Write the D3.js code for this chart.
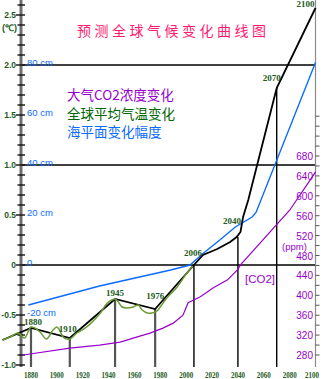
<!DOCTYPE html>
<html><head><meta charset="utf-8">
<script src="https://cdn.jsdelivr.net/npm/d3@7"></script>
<style>html,body{margin:0;padding:0;background:#fff;overflow:hidden}</style>
</head><body>
<svg id="c" width="323" height="379"></svg>
<script>
// ---- data ----
const title = "预测全球气候变化曲线图";
const legendLabels = ["大气CO2浓度变化", "全球平均气温变化", "海平面变化幅度"];
const xTickYears = [1880,1900,1920,1940,1960,1980,2000,2020,2040,2060,2080,2100];
const tempTickLabels = ["2.5","2.0","1.5","1.0","0.5","0","-0.5","-1.0"];
const tempTickValues = [2.5,2.0,1.5,1.0,0.5,0,-0.5,-1.0];
const seaTickLabels = ["80 cm","60 cm","40 cm","20 cm","0","-20 cm"];
const seaTickValues = [80,60,40,20,0,-20];
const co2TickValues = [280,320,360,400,440,480,520,560,600,640,680];

const keyYears = [1880,1910,1945,1976,2006,2040,2070,2100];
const keyTemps = [-0.63,-0.73,-0.34,-0.44,0,0.28,1.77,2.57];

const trendYears = [1858,1880,1910,1945,1976,2006,2013,2024,2034,2039,2042,2044,2048,2070,2100];
const trendTemps = [-0.75,-0.63,-0.73,-0.34,-0.44,0,0.10,0.16,0.23,0.28,0.33,0.48,0.65,1.77,2.57];

const obsYears = [1858,1864,1870,1875,1880,1883,1887,1892,1897,1900,1902,1905.5,1910,1915.5,1923,1933,1939,1942.5,1945,1947.5,1950.5,1954,1959,1963,1966,1970,1973.5,1977.5,1980,1985,1993,2000.5,2005];
const obsTemps = [-0.75,-0.72,-0.68,-0.73,-0.62,-0.63,-0.67,-0.74,-0.65,-0.62,-0.65,-0.73,-0.74,-0.68,-0.62,-0.49,-0.38,-0.35,-0.34,-0.37,-0.42,-0.43,-0.42,-0.40,-0.45,-0.48,-0.48,-0.46,-0.42,-0.33,-0.22,-0.08,-0.01];

const seaYears = [1878,1933,1988,2003,2013,2026,2038,2051,2054,2100];
const seaCm = [-16,-8.4,-2,0,4.6,10,15.2,19.2,21,81];

const co2Years = [1874,1910,1933,1949,1959,1972,1982,1990,1997.5,2001.5,2011,2021,2032,2040,2042,2080,2097,2100];
const co2Ppm = [280,294,300,306,314,324,334,344,360,385,397,415,431,452,461,571,636,648];

// ---- layout / style ----
const dark = "#1d5c1d", purple = "#9900cc", blue = "#0a6cff", olive = "#6b9a33", pink = "#ff1a70";
const labelOffsets = [[2,-3],[-2,-6],[0,-3],[0,-10],[-1,-9],[-6,-13],[-5,-7],[-10,-1]];

const svg = d3.select("#c");
const x = d3.scaleLinear().domain([1880,2100]).range([31,315.5]);
const yT = d3.scaleLinear().domain([-1,2.5]).range([365,15]);
const yC = d3.scaleLinear().domain([280,680]).range([355,156]);
const yS = cm => yT(cm/40);
const axisX = 21, rightX = 315.5, bottomY = 367;

// horizontal reference lines
svg.selectAll("line.ref").data([0,1,2]).enter().append("line")
  .attr("x1",axisX).attr("x2",rightX).attr("y1",d=>yT(d)).attr("y2",d=>yT(d))
  .attr("stroke","#000").attr("stroke-width",1.6);

// left axis
svg.append("line").attr("x1",axisX).attr("x2",axisX).attr("y1",0).attr("y2",bottomY)
  .attr("stroke","#6e6e6e").attr("stroke-width",3);
const minor = d3.range(-10,27).map(i=>i/10);
svg.selectAll("line.lt").data(minor).enter().append("line")
  .attr("x1",d=>Math.abs(Math.round(d*10))%5===0?16:17.5).attr("x2",25)
  .attr("y1",d=>yT(d)).attr("y2",d=>yT(d))
  .attr("stroke","#111").attr("stroke-width",1.4);
svg.selectAll("text.tl").data(tempTickValues).enter().append("text")
  .attr("x",16).attr("y",d=>yT(d)+3).attr("text-anchor","end")
  .attr("font-family","Liberation Sans, sans-serif").attr("font-weight","bold")
  .attr("font-size",8.5).attr("fill",dark).text((d,i)=>tempTickLabels[i]);
svg.append("text").attr("x",2).attr("y",31).attr("font-family","Liberation Sans, sans-serif")
  .attr("font-weight","bold").attr("font-size",9).attr("fill",dark).text("(℃)");
svg.selectAll("text.sl").data(seaTickValues).enter().append("text")
  .attr("x",27).attr("y",d=>yS(d)+1).attr("font-family","Liberation Sans, sans-serif")
  .attr("font-size",9.5).attr("fill",blue).text((d,i)=>seaTickLabels[i]);

// right axis
svg.append("line").attr("x1",rightX).attr("x2",rightX).attr("y1",0).attr("y2",bottomY)
  .attr("stroke","#8a8a8a").attr("stroke-width",1.2);
svg.selectAll("line.rt").data(d3.range(280,780,20)).enter().append("line")
  .attr("x1",rightX).attr("x2",rightX+4).attr("y1",d=>yC(d)).attr("y2",d=>yC(d))
  .attr("stroke","#555").attr("stroke-width",1);
svg.selectAll("text.cl").data(co2TickValues).enter().append("text")
  .attr("x",313).attr("y",d=>yC(d)+4).attr("text-anchor","end")
  .attr("font-family","Liberation Sans, sans-serif").attr("font-size",10)
  .attr("fill",purple).text(d=>d);
svg.append("text").attr("x",282).attr("y",250).attr("font-family","Liberation Sans, sans-serif")
  .attr("font-size",9.5).attr("fill",purple).text("(ppm)");
svg.append("text").attr("x",245).attr("y",283).attr("font-family","Liberation Sans, sans-serif")
  .attr("font-size",11.5).attr("fill",purple).text("[CO2]");

// bottom labels
svg.selectAll("text.xl").data(xTickYears).enter().append("text")
  .attr("x",d=>Math.min(x(d),312)).attr("y",377.5).attr("text-anchor","middle")
  .attr("font-family","Liberation Serif, serif").attr("font-weight","bold")
  .attr("font-size",9).attr("fill",dark)
  .attr("textLength",14).attr("lengthAdjust","spacingAndGlyphs").text(d=>d);

// vertical drop lines
svg.selectAll("line.drop").data(keyYears.slice(0,7)).enter().append("line")
  .attr("x1",d=>x(d)).attr("x2",d=>x(d))
  .attr("y1",(d,i)=>yT(keyTemps[i])).attr("y2",bottomY)
  .attr("stroke",d=>d<2000?"#555":"#000").attr("stroke-width",d=>d<2000?2.2:1.4);

// lines
const lineT = d3.line().x(d=>x(d[0])).y(d=>yT(d[1]));
svg.append("path").datum(co2Years.map((yr,i)=>[yr,co2Ppm[i]]))
  .attr("d",d3.line().x(d=>x(d[0])).y(d=>yC(d[1])))
  .attr("fill","none").attr("stroke",purple).attr("stroke-width",1.2);
svg.append("path").datum(seaYears.map((yr,i)=>[yr,seaCm[i]]))
  .attr("d",d3.line().x(d=>x(d[0])).y(d=>yS(d[1])))
  .attr("fill","none").attr("stroke",blue).attr("stroke-width",1.4);
svg.append("path").datum(trendYears.map((yr,i)=>[yr,trendTemps[i]]))
  .attr("d",lineT).attr("fill","none").attr("stroke","#000").attr("stroke-width",1.8);
svg.append("path").datum(obsYears.map((yr,i)=>[yr,obsTemps[i]]))
  .attr("d",lineT.curve(d3.curveCatmullRom))
  .attr("fill","none").attr("stroke",olive).attr("stroke-width",1.5);

// key point labels
svg.selectAll("text.kl").data(keyYears).enter().append("text")
  .attr("x",(d,i)=>x(d)+labelOffsets[i][0]).attr("y",(d,i)=>yT(keyTemps[i])+labelOffsets[i][1])
  .attr("text-anchor","middle").attr("font-family","Liberation Serif, serif")
  .attr("font-weight","bold").attr("font-size",9).attr("fill",dark).text(d=>d);

// title
svg.append("text").attr("x",77).attr("y",36).attr("font-family","Noto Sans CJK SC, sans-serif")
  .attr("font-size",14).attr("letter-spacing",3.5).attr("fill",pink).text(title);

// legend
const legendColors = [purple,"#006600",blue];
svg.selectAll("text.lg").data(legendLabels).enter().append("text")
  .attr("x",67).attr("y",(d,i)=>100+i*18.5)
  .attr("font-family","Noto Sans CJK SC, sans-serif").attr("font-size",13.5)
  .attr("fill",(d,i)=>legendColors[i]).text(d=>d);
</script>
</body></html>
